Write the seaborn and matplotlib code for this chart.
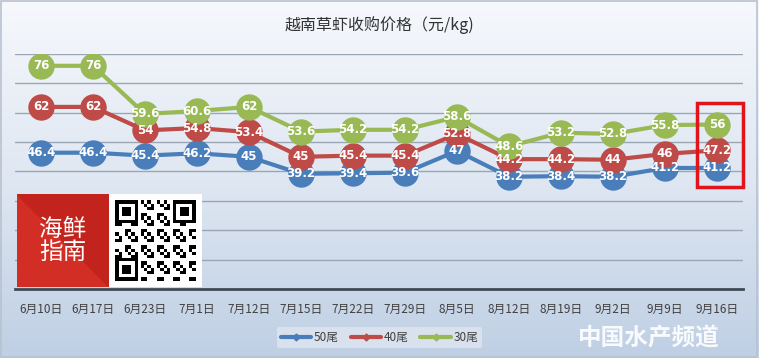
import numpy as np
import pandas as pd
import matplotlib
matplotlib.use("Agg")
import matplotlib.pyplot as plt
import seaborn as sns
from matplotlib.patches import Rectangle
from matplotlib.lines import Line2D
from matplotlib.colors import LinearSegmentedColormap

dates = ["6月10日", "6月17日", "6月23日", "7月1日", "7月12日", "7月15日", "7月22日",
         "7月29日", "8月5日", "8月12日", "8月19日", "9月2日", "9月9日", "9月16日"]
s50 = [46.4, 46.4, 45.4, 46.2, 45, 39.2, 39.4, 39.6, 47, 38.2, 38.4, 38.2, 41.2, 41.2]
s40 = [62, 62, 54, 54.8, 53.4, 45, 45.4, 45.4, 52.8, 44.2, 44.2, 44, 46, 47.2]
s30 = [76, 76, 59.6, 60.6, 62, 53.6, 54.2, 54.2, 58.6, 48.6, 53.2, 52.8, 55.8, 56]
series_names = ["50尾", "40尾", "30尾"]
colors = ["#4A7EBB", "#BE4B48", "#98B954"]
title = "越南草虾收购价格（元/kg)"

rows = []
for name, vals in zip(series_names, [s50, s40, s30]):
    for i, (d, v) in enumerate(zip(dates, vals)):
        rows.append({"date": d, "idx": i, "price": v, "series": name})
df = pd.DataFrame(rows)

sns.set_theme(style="white")
plt.rcParams['font.family'] = ['Noto Sans CJK SC', 'DejaVu Sans']

fig = plt.figure(figsize=(7.59, 3.58), dpi=100)

# gradient background
bg = fig.add_axes([0, 0, 1, 1], zorder=-10)
grad = np.linspace(0, 1, 256).reshape(-1, 1)
cmap = LinearSegmentedColormap.from_list("bg", ["#f6f8fc", "#dfe7f2", "#bfcfe4"])
bg.imshow(grad, aspect="auto", cmap=cmap, extent=[0, 1, 0, 1], origin="upper")
bg.add_patch(Rectangle((0.001, 0.003), 0.997, 0.994, fill=False, edgecolor="#b8c2cf", lw=1.2))
bg.set_xlim(0, 1); bg.set_ylim(0, 1)
bg.axis("off")

ax = fig.add_axes([0.0198, 0.193, 0.959, 0.656])
ax.patch.set_alpha(0)
palette = dict(zip(series_names, colors))
sns.lineplot(data=df, x="idx", y="price", hue="series", palette=palette, marker="o",
             markersize=19, linewidth=3, markeredgewidth=0, ax=ax, legend=False, zorder=3)

for name, vals in zip(series_names, [s50, s40, s30]):
    for i, v in enumerate(vals):
        ax.text(i, v, f"{v:g}", ha="center", va="center", color="white",
                fontsize=8.5, fontweight="bold", zorder=5, family=["DejaVu Sans"])

ax.set_xlim(-0.5, len(dates) - 0.5)
ax.set_ylim(0, 80)
ax.set_yticks(np.arange(0, 81, 10))
ax.yaxis.grid(True, color="#9aa6b4", lw=1)
ax.set_yticklabels([])
ax.tick_params(axis="y", length=0)
ax.set_xticks(range(len(dates)))
ax.set_xticklabels(dates, fontsize=8.5, color="#404040")
ax.tick_params(axis="x", length=0, pad=10)
for sp in ["top", "right", "left"]:
    ax.spines[sp].set_visible(False)
ax.spines["bottom"].set_color("#404a56")
ax.spines["bottom"].set_linewidth(2)
ax.set_xlabel(""); ax.set_ylabel("")

# highlight last point
ax.add_patch(Rectangle((len(dates) - 1.38, 34.7), 0.88, 28.6, fill=False,
                       edgecolor="#e0141a", lw=2.5, zorder=6, clip_on=False))

fig.text(0.5, 0.93, title, ha="center", va="center", fontsize=11.5, color="#333333")

# legend
handles = [Line2D([0], [0], color=c, lw=3, marker="D", markersize=3.5) for c in colors]
leg = fig.legend(handles, series_names, loc="center", bbox_to_anchor=(0.5, 0.058),
                 ncol=3, frameon=True, fontsize=8.5, handlelength=2.6, columnspacing=1.0,
                 handletextpad=0.2, borderpad=0.35)
leg.get_frame().set_facecolor("#dfe6f0")
leg.get_frame().set_edgecolor("none")
for t in leg.get_texts():
    t.set_color("#404040")

# logo overlay (decorative)
lg = fig.add_axes([17/759, 1 - 287/358, 92/759, 93/358])
lg.set_xlim(0, 1); lg.set_ylim(0, 1); lg.axis("off")
lg.add_patch(Rectangle((0, 0), 1, 1, color="#d22e26"))
lg.add_patch(plt.Polygon([[0, 1], [1, 1], [1, 0]], color="#c2241d"))
lg.text(0.5, 0.5, "海鲜\n指南", ha="center", va="center", color="white", fontsize=17,
        linespacing=1.0)
qr = fig.add_axes([109/759, 1 - 287/358, 92/759, 93/358])
qr.axis("off")
n = 25
ii, jj = np.meshgrid(np.arange(n), np.arange(n))
pat = (((ii * 7 + jj * 13 + ii * jj) % 5) < 2).astype(float)
for (a, b) in [(0, 0), (0, n - 7), (n - 7, 0)]:
    pat[a:a + 7, b:b + 7] = 0
    pat[a:a + 7, b] = 1; pat[a:a + 7, b + 6] = 1
    pat[a, b:b + 7] = 1; pat[a + 6, b:b + 7] = 1
    pat[a + 2:a + 5, b + 2:b + 5] = 1
full = np.zeros((n + 4, n + 4)); full[2:-2, 2:-2] = pat
qr.imshow(full, cmap="Greys", interpolation="nearest", aspect="auto")

# watermark
fig.text(0.948, 0.055, "中国水产频道", ha="right", va="center", fontsize=17,
         color="white", fontweight="bold", alpha=0.9)

fig.savefig("out.png", dpi=100)
